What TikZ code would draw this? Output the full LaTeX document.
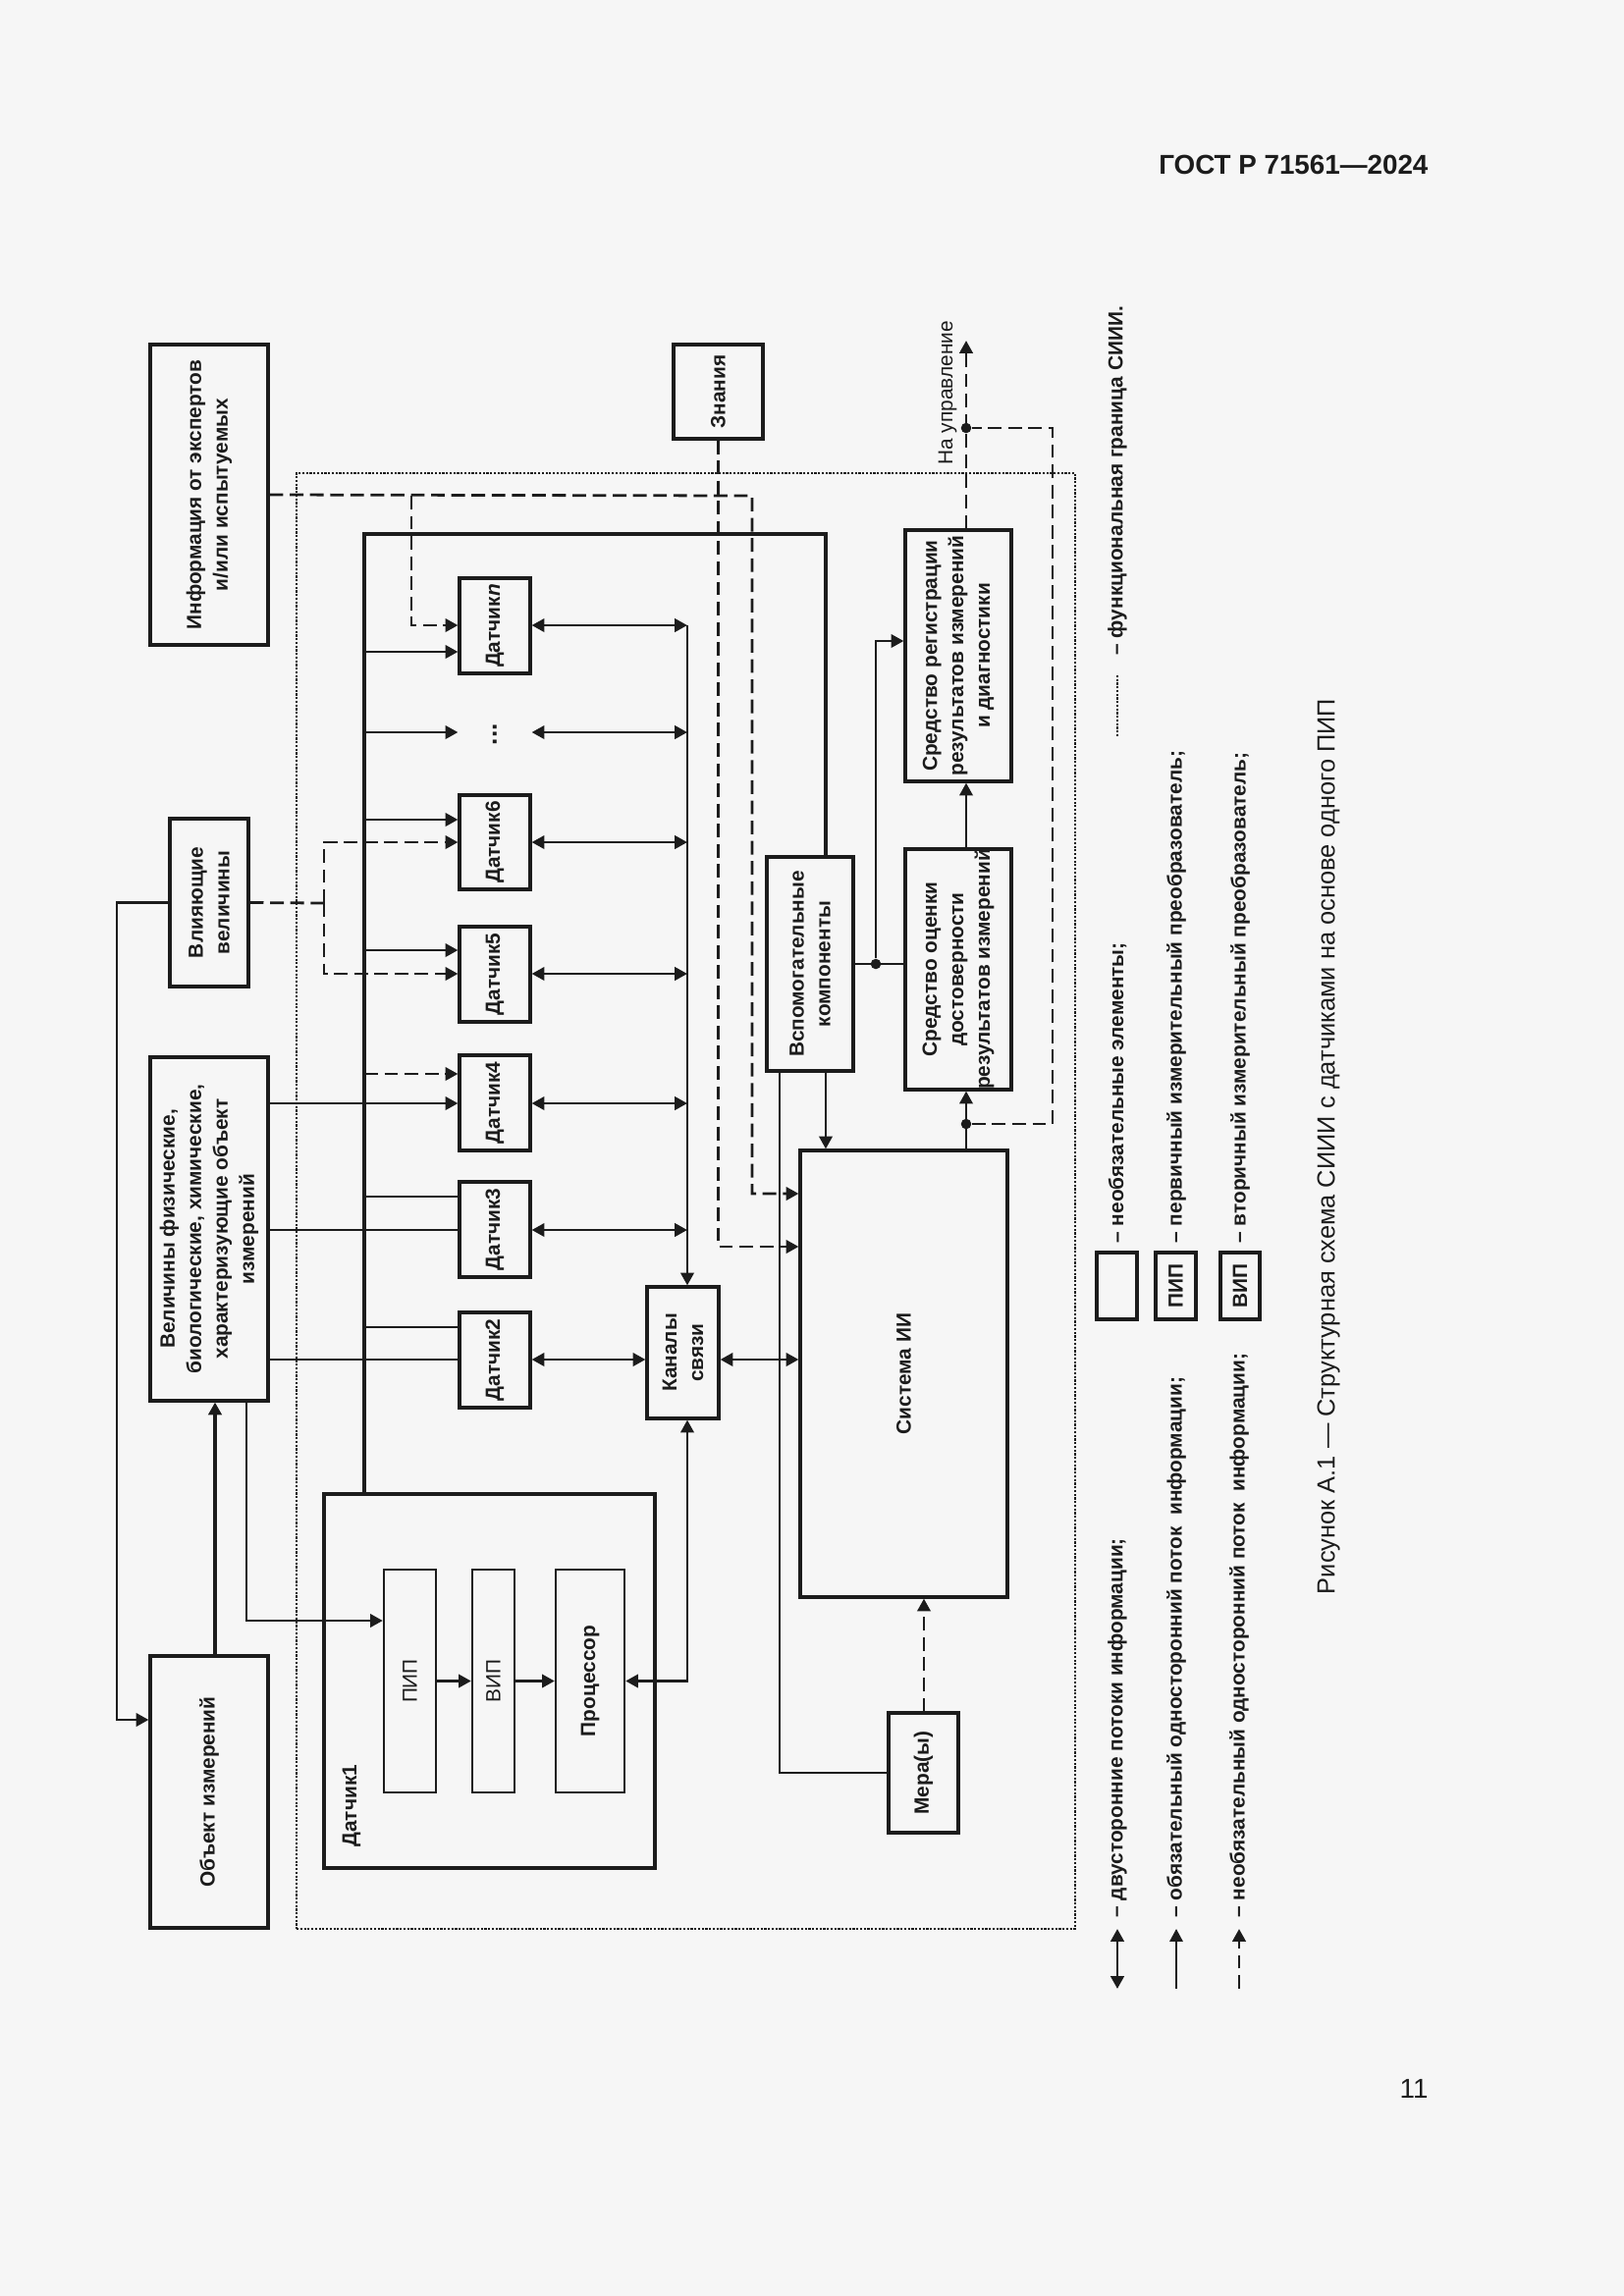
\documentclass[tikz,border=0pt]{standalone}
\usepackage{fontspec}
\setmainfont{Liberation Sans}
\usetikzlibrary{arrows.meta,fit,positioning}
\definecolor{pagebg}{RGB}{246,246,246}
\definecolor{ink}{RGB}{28,28,28}
\newcommand{\dgsize}{\fontsize{7.5}{9.7}\selectfont}
\tikzset{%
        >={Triangle[length=4.6pt,width=4.8pt]},
        box/.style={draw=ink, line width=1.15pt, inner sep=0pt},
        thinbox/.style={box, line width=0.85pt},
        vtext/.style={rotate=90, inner sep=0pt, align=center, text=ink, font=\dgsize\bfseries},
        vt/.style={label={[vtext]center:{#1}}},
        vtn/.style={label={[vtext, font=\dgsize]center:{#1}}},
        ln/.style={draw=ink, line width=1pt},
        arr/.style={ln, ->},
        darr/.style={ln, <->},
        opt/.style={dash pattern=on 5pt off 2.4pt},
        jdot/.style={circle, fill=ink, inner sep=0pt, minimum size=3.8pt},
        bound/.style={draw=ink, line width=0.7pt, dash pattern=on 0.8pt off 0.55pt},
        vlabel/.style={vtext, align=left}
}

\begin{document}
\begin{tikzpicture}[x=0.3599pt, y=-0.3599pt]
            \fill[pagebg] (0,0) rectangle (1654,2339);
            \useasboundingbox (0,0) rectangle (1654,2339);
            \node[anchor=base east, inner sep=0pt, text=ink, font=\fontsize{10}{12}\selectfont\bfseries] (gost) at (1455,177) {ГОСТ Р 71561—2024};

            \node[bound, inner sep=0pt, fit={(302,482) (1095,1965)}] (siii) {};

            \node[box, fit={(153,351) (273,657)}, vt={Информация от экспертов\\и/или испытуемых}] (info) {};
            \node[box, fit={(686,351) (777,447)}, vt={Знания}] (znan) {};
            \node[box, fit={(173,834) (253,1005)}, vt={Влияющие\\величины}] (vlij) {};
            \node[box, fit={(153,1077) (273,1427)}, vt={Величины физические,\\биологические, химические,\\характеризующие объект\\измерений}] (vel) {};
            \node[box, fit={(153,1687) (273,1964)}, vt={Объект измерений}] (obj) {};

            \node[box, fit={(468,589) (540,686)}, vt={Датчик\textit{n}}] (dn) {};
            \node[vlabel, font=\fontsize{9.5}{11}\selectfont\bfseries] (dots) at (504,748) {...};
            \node[box, fit={(468,810) (540,906)}, vt={Датчик6}] (d6) {};
            \node[box, fit={(468,944) (540,1041)}, vt={Датчик5}] (d5) {};
            \node[box, fit={(468,1075) (540,1172)}, vt={Датчик4}] (d4) {};
            \node[box, fit={(468,1204) (540,1301)}, vt={Датчик3}] (d3) {};
            \node[box, fit={(468,1337) (540,1434)}, vt={Датчик2}] (d2) {};

            \node[box, fit={(330,1522) (667,1903)}] (d1) {};
            \node[vlabel, anchor=west] (d1l) at (358,1882) {Датчик1};
            \node[thinbox, fit={(391,1599) (444,1826)}, vtn={ПИП}] (pip) {};
            \node[thinbox, fit={(481,1599) (524,1826)}, vtn={ВИП}] (vip) {};
            \node[thinbox, fit={(566,1599) (636,1826)}, vt={Процессор}] (proc) {};

            \node[box, fit={(659,1311) (732,1445)}, vt={Каналы\\связи}] (kan) {};
            \node[box, fit={(781,873) (869,1091)}, vt={Вспомогательные\\компоненты}] (vsp) {};
            \node[box, fit={(815,1172) (1026,1627)}, vt={Система ИИ}] (sys) {};
            \node[box, fit={(905,1745) (976,1867)}, vt={Мера(ы)}] (mera) {};
            \node[box, fit={(922,540) (1030,796)}, vt={Средство регистрации\\результатов измерений\\и диагностики}] (reg) {};
            \node[box, fit={(922,865) (1030,1110)}, vt={Средство оценки\\достоверности\\результатов измерений}] (ocen) {};

            \coordinate (bt) at (371,544);
            \coordinate (cb) at (700,637);
            \coordinate (ij) at (419,505);
            \coordinate (vj) at (330,920);
            \coordinate (upr) at (984,347);
            \node[jdot] (j1) at (892,982) {};
            \node[jdot] (j2) at (984,1145) {};
            \node[jdot] (j3) at (984,436) {};

            \draw[ln, line width=1.15pt] (d1.north -| bt) -- (bt) -| (vsp.north -| 841,0);
            \foreach \dd/\yy in {dn/664, d6/835, d5/968}
                \draw[arr] (bt |- 0,\yy) -- (\dd.west |- 0,\yy);
            \draw[arr] (bt |- 0,746) -- (dn.west |- 0,746);
            \draw[arr, opt] (bt |- 0,1094) -- (d4.west |- 0,1094);
            \draw[ln] (bt |- 0,1219) -- (d3.west |- 0,1219);
            \draw[ln] (bt |- 0,1352) -- (d2.west |- 0,1352);

            \draw[arr] (vel.east |- 0,1124) -- (d4.west |- 0,1124);
            \draw[ln] (vel.east |- 0,1253) -- (d3.west |- 0,1253);
            \draw[ln] (vel.east |- 0,1385) -- (d2.west |- 0,1385);

            \draw[arr] (cb) -- (kan.north -| cb);
            \foreach \dd/\yy in {dn/637, d6/858, d5/992, d4/1124, d3/1253}
                \draw[darr] (\dd.east |- 0,\yy) -- (cb |- 0,\yy);
            \draw[darr] (dn.east |- 0,746) -- (cb |- 0,746);
            \draw[darr] (d2.east |- 0,1385) -- (kan.west |- 0,1385);
            \draw[darr] (kan.east |- 0,1385) -- (sys.west |- 0,1385);
            \draw[darr] (kan.south -| cb) |- (proc.east);
            \draw[arr] (pip) -- (vip);
            \draw[arr] (vip) -- (proc);

            \draw[arr] (vel.south -| 251,0) |- (pip.west |- 0,1651);
            \draw[arr, line width=1.3pt] (obj.north -| 219,0) -- (vel.south -| 219,0);
            \draw[arr] (vlij.west) -| (119,1752) -- (obj.west |- 0,1752);

            \draw[ln, opt] (vlij.east) -- (vj);
            \draw[arr, opt] (vj) |- (d6.west |- 0,858);
            \draw[arr, opt] (vj) |- (d5.west |- 0,992);
            \draw[arr, opt] (info.east) -- (766,505) |- (sys.west |- 0,1216);
            \draw[arr, opt] (ij) |- (dn.west |- 0,637);
            \draw[arr, opt] (znan.south) |- (sys.west |- 0,1270);

            \draw[arr] (vsp.south -| 841,0) -- (sys.north -| 841,0);
            \draw[ln] (vsp.south -| 794,0) |- (mera.west);
            \draw[ln] (vsp.east |- j1) -- (ocen.west |- j1);
            \draw[arr] (j1) |- (reg.west |- 0,653);
            \draw[arr] (sys.north -| j2) -- (ocen.south -| j2);
            \draw[arr] (ocen.north -| j2) -- (reg.south -| j2);
            \draw[arr, opt] (reg.north -| j3) -- (upr);
            \draw[ln, opt] (j2) -| (1072,436) -- (j3);
            \draw[arr, opt] (mera.north -| 941,0) -- (sys.south -| 941,0);
            \node[vlabel, font=\dgsize, anchor=west] (uprl) at (965,474) {На управление};

            \coordinate (lb0) at (1138,750);
            \coordinate (lb1) at (1138,687);
            \draw[bound] (lb0) -- (lb1);
            \node[vlabel, anchor=west] (lt0) at (1138,668) {– функциональная граница СИИИ.};
            \node[box, line width=1.3pt, fit={(1117,1276) (1158,1344)}] (lg1) {};
            \node[vlabel, anchor=west] (lt1) at (1138,1267) {– необязательные элементы;};
            \node[box, line width=1.3pt, fit={(1177,1276) (1218,1344)}, vt={ПИП}] (lg2) {};
            \node[vlabel, anchor=west] (lt2) at (1198,1267) {– первичный измерительный преобразователь;};
            \node[box, line width=1.3pt, fit={(1243,1276) (1283,1344)}, vt={ВИП}] (lg3) {};
            \node[vlabel, anchor=west] (lt3) at (1263,1267) {– вторичный измерительный преобразователь;};

            \coordinate (la0) at (1138,2026);
            \coordinate (la1) at (1138,1965);
            \coordinate (lc0) at (1198,2026);
            \coordinate (lc1) at (1198,1965);
            \coordinate (le0) at (1262,2026);
            \coordinate (le1) at (1262,1965);
            \draw[darr] (la0) -- (la1);
            \draw[arr, line width=0.6pt] (lc0) -- (lc1);
            \draw[arr, opt] (le0) -- (le1);
            \node[vlabel, anchor=west] (lt4) at (1138,1954) {– двусторонние потоки информации;};
            \node[vlabel, anchor=west] (lt5) at (1198,1954) {– обязательный односторонний поток\ \ информации;};
            \node[vlabel, anchor=west] (lt6) at (1262,1954) {– необязательный односторонний поток\ \ информации;};

            \node[rotate=90, inner sep=0pt, text=ink, font=\fontsize{9.15}{11}\selectfont] (cap) at (1353,1168) {Рисунок А.1 — Структурная схема СИИИ с датчиками на основе одного ПИП};
            \node[anchor=base east, inner sep=0pt, text=ink, font=\fontsize{10}{12}\selectfont] (pg) at (1455,2137) {11};
        \end{tikzpicture}
\end{document}
